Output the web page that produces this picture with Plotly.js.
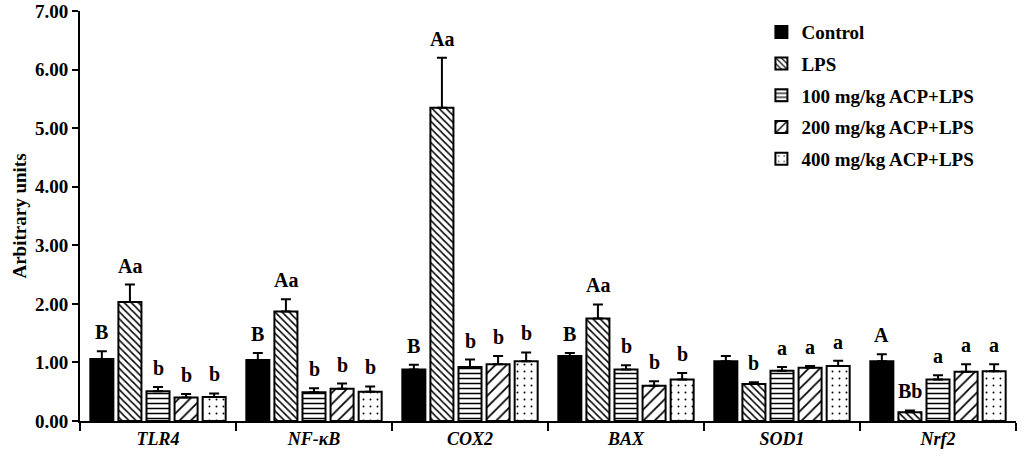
<!DOCTYPE html>
<html>
<head>
<meta charset="utf-8">
<script src="https://cdn.plot.ly/plotly-3.0.1.min.js"></script>
<style>
  html, body { margin: 0; padding: 0; background: #fff; }
  #chart { width: 1021px; height: 459px; }
</style>
</head>
<body>
<div id="chart"></div>
<script>
// genes on the x axis
const genes = ['TLR4', 'NF-κB', 'COX2', 'BAX', 'SOD1', 'Nrf2'];

const groupNames = ['Control', 'LPS', '100 mg/kg ACP+LPS', '200 mg/kg ACP+LPS', '400 mg/kg ACP+LPS'];

// mean values per group
const control = [1.06, 1.04, 0.88, 1.11, 1.02, 1.02];
const lps     = [2.03, 1.87, 5.35, 1.75, 0.63, 0.15];
const acp100  = [0.51, 0.49, 0.92, 0.88, 0.86, 0.71];
const acp200  = [0.40, 0.55, 0.97, 0.60, 0.91, 0.84];
const acp400  = [0.41, 0.50, 1.02, 0.71, 0.94, 0.85];

// upper error bars
const controlErr = [0.13, 0.12, 0.08, 0.05, 0.09, 0.12];
const lpsErr     = [0.30, 0.21, 0.85, 0.24, 0.03, 0.03];
const acp100Err  = [0.07, 0.07, 0.13, 0.07, 0.06, 0.07];
const acp200Err  = [0.06, 0.09, 0.14, 0.08, 0.03, 0.13];
const acp400Err  = [0.06, 0.09, 0.15, 0.11, 0.09, 0.12];

// significance letters
const controlSig = ['B', 'B', 'B', 'B', '', 'A'];
const lpsSig     = ['Aa', 'Aa', 'Aa', 'Aa', 'b', 'Bb'];
const acp100Sig  = ['b', 'b', 'b', 'b', 'a', 'a'];
const acp200Sig  = ['b', 'b', 'b', 'b', 'a', 'a'];
const acp400Sig  = ['b', 'b', 'b', 'b', 'a', 'a'];

const values = [control, lps, acp100, acp200, acp400];
const errors = [controlErr, lpsErr, acp100Err, acp200Err, acp400Err];
const letters = [controlSig, lpsSig, acp100Sig, acp200Sig, acp400Sig];

const FONT = 'Liberation Serif, Times New Roman, serif';
const BARGAP = 0.1;

const patterns = [
    { shape: '', fill: '#000' },
    { shape: '\\', size: 5, solidity: 0.3 },
    { shape: '-', size: 5, solidity: 0.3 },
    { shape: '/', size: 8, solidity: 0.22 },
    { shape: '.', size: 7, solidity: 0.06 }
];

const xLabels = genes.map(g => '<b><i>' + g + '</i></b>');

const traces = groupNames.map((name, i) => {
    const p = patterns[i];
    const marker = {
        color: p.fill || '#fff',
        line: { color: '#000', width: 2 }
    };
    if (p.shape) {
        marker.pattern = { shape: p.shape, size: p.size, solidity: p.solidity, fgcolor: '#000', bgcolor: '#fff', fillmode: 'replace' };
    }
    return {
        type: 'bar',
        name: name,
        legendgroup: 'g' + i,
        x: xLabels,
        y: values[i],
        marker: marker,
        error_y: {
            type: 'data', symmetric: false,
            array: errors[i],
            arrayminus: errors[i].map(() => 0),
            color: '#000', thickness: 2, width: 5
        },
        hoverinfo: 'x+y+name'
    };
});

// letters above each error bar
const slot = (1 - BARGAP) / groupNames.length;
const annotations = [];
letters.forEach((row, i) => {
    row.forEach((txt, c) => {
        if (!txt) return;
        annotations.push({
            x: c + (i - (groupNames.length - 1) / 2) * slot,
            y: values[i][c] + errors[i][c],
            xref: 'x', yref: 'y',
            text: '<b>' + txt + '</b>',
            showarrow: false,
            yanchor: 'bottom',
            yshift: 6,
            font: { family: FONT, size: 20, color: '#000' }
        });
    });
});

const layout = {
    width: 1021,
    height: 459,
    margin: { l: 80, r: 5, t: 11, b: 38, pad: 0 },
    paper_bgcolor: '#fff',
    plot_bgcolor: '#fff',
    font: { family: FONT, color: '#000' },
    barmode: 'group',
    bargap: BARGAP,
    bargroupgap: 0.18,
    showlegend: true,
    legend: {
        x: 0.728, xanchor: 'left',
        y: 0.995, yanchor: 'top',
        traceorder: 'grouped',
        tracegroupgap: 4,
        font: { family: FONT, size: 19, weight: 'bold', color: '#000' },
        bgcolor: 'rgba(0,0,0,0)'
    },
    xaxis: {
        type: 'category',
        range: [-0.5, 5.5],
        showline: true, linecolor: '#000', linewidth: 2,
        ticks: 'outside', tickson: 'boundaries', ticklen: 8, tickwidth: 2, tickcolor: '#000',
        tickfont: { family: FONT, size: 18, color: '#000' },
        showgrid: false, zeroline: false
    },
    yaxis: {
        range: [0, 7],
        tickvals: [0, 1, 2, 3, 4, 5, 6, 7],
        ticktext: ['0.00', '1.00', '2.00', '3.00', '4.00', '5.00', '6.00', '7.00'],
        ticklabeloverflow: 'allow',
        showline: true, linecolor: '#000', linewidth: 2,
        ticks: 'outside', ticklen: 6, tickwidth: 2, tickcolor: '#000',
        tickfont: { family: FONT, size: 19, weight: 'bold', color: '#000' },
        title: { text: '<b>Arbitrary units</b>', font: { family: FONT, size: 19, color: '#000' }, standoff: 3 },
        showgrid: false, zeroline: false
    },
    annotations: annotations
};

Plotly.newPlot('chart', traces, layout, { displayModeBar: false, responsive: false });
</script>
</body>
</html>
